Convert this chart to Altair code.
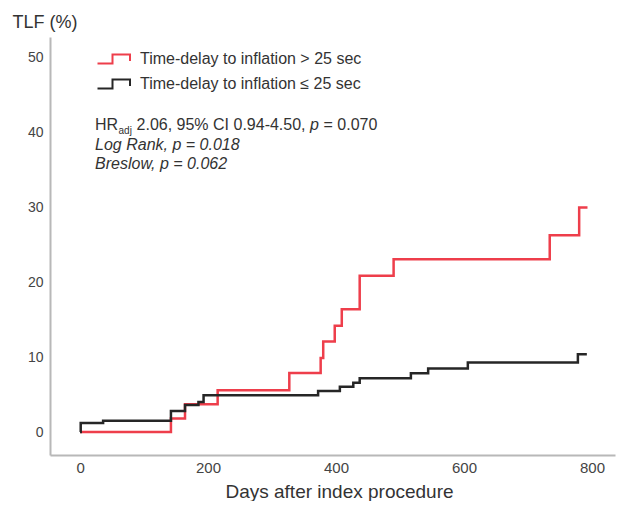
import altair as alt
import pandas as pd

FONT = "Liberation Sans"

# ---- data ----
red_days = [0, 142, 164, 215, 327, 376, 380, 398, 409, 437, 490, 734, 780, 793]
red_vals = [0, 1.8, 3.7, 5.6, 7.9, 9.9, 12.1, 14.2, 16.4, 20.9, 23.1, 26.3, 30.0, 30.0]
black_days = [0, 1, 36, 142, 164, 185, 193, 372, 406, 427, 437, 517, 544, 606, 778, 792]
black_vals = [0, 1.2, 1.5, 2.8, 3.6, 4.0, 4.9, 5.5, 6.05, 6.6, 7.2, 7.85, 8.5, 9.3, 10.4, 10.4]
series_labels = ["Time-delay to inflation > 25 sec", "Time-delay to inflation \u2264 25 sec"]
series_colors = ["#ee3e4b", "#262626"]
x_ticks = [0, 200, 400, 600, 800]
y_ticks = [0, 10, 20, 30, 40, 50]

ann_day = 23.4
ann_levels = [40.4, 37.7, 35.15]
hr_parts = ["HR", "adj", "2.06, 95% CI 0.94-4.50,", "p", "= 0.070"]
line2 = "Log Rank, p = 0.018"
line3 = "Breslow, p = 0.062"

rows = []
for d, v in zip(red_days, red_vals):
    rows.append({"day": d, "tlf": v, "group": series_labels[0]})
for d, v in zip(black_days, black_vals):
    rows.append({"day": d, "tlf": v, "group": series_labels[1]})
df = pd.DataFrame(rows)

xscale = alt.Scale(domain=[-47, 836], nice=False, zero=False)
yscale = alt.Scale(domain=[-3.07, 52.8], nice=False, zero=False)

lines = alt.Chart(df).mark_line(interpolate="step-after", strokeWidth=2.5).encode(
    x=alt.X("day:Q", scale=xscale,
            axis=alt.Axis(values=x_ticks, title="Days after index procedure",
                          titleX=289, titleY=42, titleAlign="center",
                          titleBaseline="alphabetic", titleFontSize=19,
                          titleFontWeight="normal", titleColor="#333333",
                          labelFontSize=15, labelPadding=5, labelFlush=False)),
    y=alt.Y("tlf:Q", scale=yscale,
            axis=alt.Axis(values=y_ticks, title="TLF (%)", titleAngle=0,
                          titleX=-38, titleY=-10, titleAlign="left",
                          titleBaseline="alphabetic", titleFontSize=18,
                          titleFontWeight="normal", titleColor="#333333",
                          labelFontSize=14, labelPadding=7)),
    color=alt.Color("group:N",
                    scale=alt.Scale(domain=series_labels, range=series_colors),
                    legend=alt.Legend(title=None, orient="none", legendX=57, legendY=14,
                                      symbolType="M-3.5,0.9H-0.5V-0.9H3V0.4",
                                      symbolSize=100, symbolStrokeWidth=2,
                                      symbolFillColor="transparent",
                                      labelFontSize=16, labelColor="#333333",
                                      labelFont=FONT, rowPadding=7, padding=0,
                                      labelOffset=17, labelLimit=0)),
)

def text_layer(txt, level, dx=0, size=16, style="normal", dy=0):
    d = pd.DataFrame({"day": [ann_day], "tlf": [level], "t": [txt]})
    return alt.Chart(d).mark_text(
        align="left", baseline="alphabetic", dx=dx, dy=dy, fontSize=size,
        fontStyle=style, font=FONT, color="#333333"
    ).encode(x=alt.X("day:Q", scale=xscale), y=alt.Y("tlf:Q", scale=yscale), text="t:N")

ann = [
    text_layer(hr_parts[0], ann_levels[0], dx=0),
    text_layer(hr_parts[1], ann_levels[0], dx=23.5, size=10, dy=4),
    text_layer(hr_parts[2], ann_levels[0], dx=41.5),
    text_layer(hr_parts[3], ann_levels[0], dx=215, style="italic"),
    text_layer(hr_parts[4], ann_levels[0], dx=228.5),
    text_layer(line2, ann_levels[1], style="italic"),
    text_layer(line3, ann_levels[2], style="italic"),
]

chart = alt.layer(lines, *ann).properties(
    width=565, height=418,
    autosize=alt.AutoSizeParams(type="none"),
    padding={"left": 42, "top": 29, "right": 6, "bottom": 46},
    background="white",
).configure_view(stroke=None).configure_axis(
    grid=False, ticks=False, tickSize=0, domainColor="#b8b8b8", domainWidth=2,
    labelColor="#444444", labelFont=FONT, titleFont=FONT,
)

chart.save("out.html", embed_options={"renderer": "svg", "actions": False})
